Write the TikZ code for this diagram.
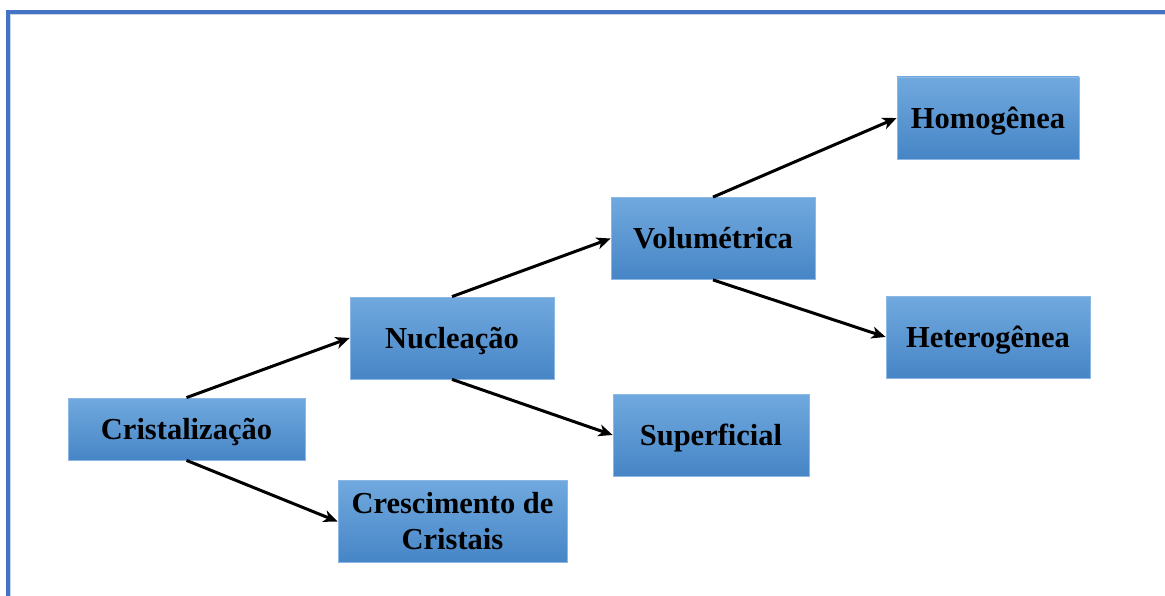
\documentclass[tikz,border=0pt]{standalone}
\usepackage{fontspec}
\setmainfont{Liberation Serif}
\usetikzlibrary{arrows.meta}
\definecolor{boxtop}{HTML}{70A9DE}
\definecolor{boxbot}{HTML}{4685C6}
\definecolor{boxedge}{HTML}{8DB8E6}
\definecolor{frameblue}{HTML}{4472C4}
\tikzset{
  cbox/.style={draw=boxedge, line width=0.8pt, top color=boxtop, bottom color=boxbot,
    minimum width=#1, minimum height=82pt, inner sep=0pt, align=center,
    font=\fontsize{30.5}{36}\selectfont\bfseries},
  cbox/.default=204pt,
  oneline/.style={text height=24pt, text depth=3pt},
  conn/.style={-{Stealth[length=14pt,width=12pt,inset=4pt]}, line width=3pt, black}
}
\begin{document}
\begin{tikzpicture}[x=1pt,y=-1pt]
\useasboundingbox (0,0) rectangle (1165,596);
\draw[frameblue, line width=3.6pt] (7.7,610) -- (7.7,12) -- (1180,12);
\draw[frameblue!30, line width=1pt] (10.5,610) -- (10.5,14.8) -- (1180,14.8);
\node[cbox=237pt, minimum height=62pt, oneline] (cr) at (186.5,429) {Cristalização};
\node[cbox, oneline] (nu) at (452,338) {Nucleação};
\node[cbox=229pt] (cc) at (452.5,521.5) {Crescimento de\\Cristais};
\node[cbox, oneline] (vo) at (713,238.5) {Volumétrica};
\node[cbox=196pt, oneline] (su) at (711,435) {Superficial};
\node[cbox=182pt, oneline] (ho) at (988,118) {Homogênea};
\node[cbox, oneline] (he) at (988,337) {Heterogênea};
\draw[conn] (cr.north) -- (nu.west);
\draw[conn] (cr.south) -- (cc.west);
\draw[conn] (nu.north) -- (vo.west);
\draw[conn] (nu.south) -- (su.west);
\draw[conn] (vo.north) -- (ho.west);
\draw[conn] (vo.south) -- (he.west);
\end{tikzpicture}
\end{document}
